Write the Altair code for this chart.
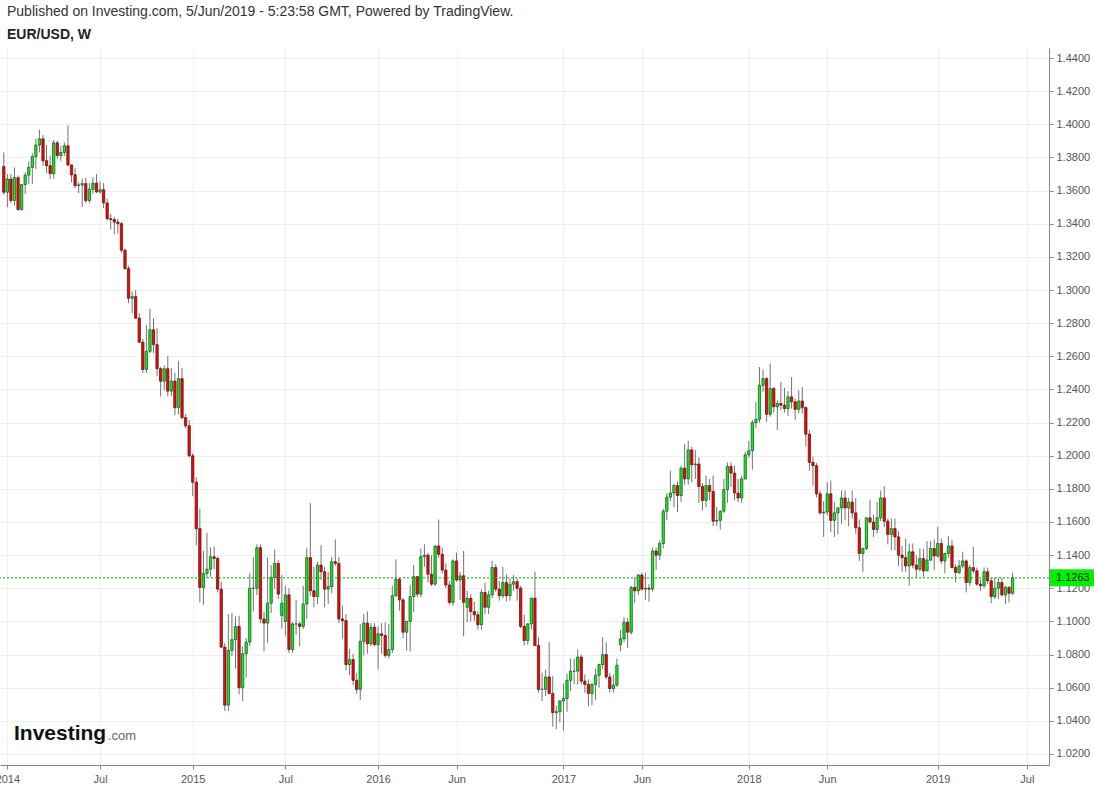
import altair as alt
import pandas as pd

# ---------------- data (weekly EUR/USD bars, week starting Monday) ----------------
FIRST_WEEK = "2013-12-30"
FIRST_OPEN = 1.3745
GAP_OPENS = {"2015-06-29": 1.1035, "2015-07-06": 1.1000,
             "2016-06-27": 1.1085, "2017-04-24": 1.0860}

# weeks 2013-12-30 .. 2014-12-22
c14 = [1.3590, 1.3670, 1.3540, 1.3678, 1.3486, 1.3636, 1.3693, 1.3740, 1.3805, 1.3875,
       1.3912, 1.3780, 1.3750, 1.3702, 1.3888, 1.3812, 1.3830, 1.3870, 1.3755, 1.3695,
       1.3630, 1.3634, 1.3642, 1.3540, 1.3608, 1.3645, 1.3592, 1.3605, 1.3525, 1.3430,
       1.3425, 1.3410, 1.3400, 1.3240, 1.3130, 1.2950, 1.2960, 1.2830, 1.2685, 1.2520,
       1.2630, 1.2760, 1.2670, 1.2525, 1.2450, 1.2525, 1.2390, 1.2450, 1.2290, 1.2465,
       1.2230, 1.2180]
h14 = [1.3830, 1.3700, 1.3700, 1.3740, 1.3690, 1.3640, 1.3710, 1.3775, 1.3825, 1.3915,
       1.3967, 1.3935, 1.3875, 1.3810, 1.3905, 1.3900, 1.3870, 1.3890, 1.3993, 1.3755,
       1.3735, 1.3650, 1.3670, 1.3677, 1.3645, 1.3680, 1.3700, 1.3655, 1.3645, 1.3550,
       1.3460, 1.3440, 1.3430, 1.3410, 1.3250, 1.3145, 1.2990, 1.3000, 1.2860, 1.2705,
       1.2790, 1.2887, 1.2830, 1.2770, 1.2535, 1.2545, 1.2600, 1.2530, 1.2500, 1.2570,
       1.2530, 1.2250]
l14 = [1.3575, 1.3500, 1.3525, 1.3510, 1.3478, 1.3478, 1.3580, 1.3640, 1.3640, 1.3730,
       1.3830, 1.3750, 1.3705, 1.3670, 1.3670, 1.3790, 1.3780, 1.3810, 1.3745, 1.3650,
       1.3615, 1.3585, 1.3500, 1.3525, 1.3525, 1.3580, 1.3585, 1.3580, 1.3495, 1.3420,
       1.3365, 1.3335, 1.3340, 1.3225, 1.3120, 1.2920, 1.2860, 1.2825, 1.2680, 1.2500,
       1.2500, 1.2620, 1.2620, 1.2480, 1.2357, 1.2395, 1.2358, 1.2360, 1.2245, 1.2250,
       1.2220, 1.2165]

# weeks 2014-12-29 .. 2015-12-21
c15 = [1.2000, 1.1840, 1.1560, 1.1205, 1.1290, 1.1315, 1.1390, 1.1380, 1.1195, 1.0845,
       1.0495, 1.0825, 1.0890, 1.0970, 1.0600, 1.0805, 1.0875, 1.1200, 1.1200, 1.1445,
       1.1015, 1.0990, 1.1110, 1.1265, 1.1350, 1.1165, 1.1110, 1.1160, 1.0830, 1.0985,
       1.0985, 1.0970, 1.1105, 1.1385, 1.1185, 1.1150, 1.1340, 1.1300, 1.1195, 1.1210,
       1.1360, 1.1350, 1.1015, 1.1005, 1.0740, 1.0770, 1.0645, 1.0590, 1.0880, 1.0990,
       1.0865, 1.0965]
h15 = [1.2215, 1.2015, 1.1870, 1.1680, 1.1425, 1.1535, 1.1445, 1.1450, 1.1390, 1.1240,
       1.0870, 1.1045, 1.1050, 1.1030, 1.1035, 1.0850, 1.0900, 1.1290, 1.1390, 1.1465,
       1.1465, 1.1060, 1.1385, 1.1340, 1.1435, 1.1370, 1.1280, 1.1215, 1.1200, 1.0995,
       1.1130, 1.1000, 1.1215, 1.1440, 1.1715, 1.1330, 1.1360, 1.1460, 1.1330, 1.1300,
       1.1390, 1.1495, 1.1390, 1.1095, 1.1045, 1.0835, 1.0805, 1.0690, 1.0985, 1.1045,
       1.1060, 1.0990]
l15 = [1.1990, 1.1755, 1.1460, 1.1115, 1.1100, 1.1260, 1.1270, 1.1315, 1.1175, 1.0840,
       1.0460, 1.0460, 1.0790, 1.0715, 1.0560, 1.0520, 1.0660, 1.0850, 1.1060, 1.1160,
       1.0990, 1.0820, 1.0870, 1.1050, 1.1195, 1.1135, 1.0955, 1.0915, 1.0810, 1.0810,
       1.0920, 1.0850, 1.0955, 1.1015, 1.1155, 1.1085, 1.1105, 1.1250, 1.1085, 1.1105,
       1.1170, 1.1335, 1.0990, 1.0895, 1.0705, 1.0675, 1.0615, 1.0565, 1.0525, 1.0795,
       1.0805, 1.0850]

# weeks 2015-12-28 .. 2016-12-26
c16 = [1.0860, 1.0925, 1.0915, 1.0795, 1.0830, 1.1155, 1.1255, 1.1130, 1.0935, 1.1000,
       1.1150, 1.1270, 1.1165, 1.1390, 1.1400, 1.1285, 1.1225, 1.1455, 1.1405, 1.1310,
       1.1220, 1.1115, 1.1365, 1.1250, 1.1275, 1.1115, 1.1140, 1.1060, 1.1040, 1.0980,
       1.1175, 1.1085, 1.1160, 1.1325, 1.1195, 1.1155, 1.1235, 1.1155, 1.1225, 1.1240,
       1.1200, 1.0970, 1.0885, 1.0985, 1.1140, 1.0855, 1.0590, 1.0590, 1.0665, 1.0565,
       1.0450, 1.0455, 1.0520]
h16 = [1.0990, 1.0970, 1.0990, 1.0995, 1.0985, 1.1215, 1.1375, 1.1260, 1.1140, 1.1005,
       1.1220, 1.1340, 1.1275, 1.1440, 1.1465, 1.1415, 1.1400, 1.1460, 1.1615, 1.1445,
       1.1350, 1.1245, 1.1375, 1.1415, 1.1300, 1.1425, 1.1185, 1.1165, 1.1120, 1.1060,
       1.1195, 1.1235, 1.1185, 1.1365, 1.1345, 1.1245, 1.1330, 1.1285, 1.1260, 1.1280,
       1.1260, 1.1215, 1.1040, 1.0990, 1.1145, 1.1300, 1.0905, 1.0690, 1.0710, 1.0875,
       1.0670, 1.0490, 1.0525]
l16 = [1.0850, 1.0710, 1.0805, 1.0780, 1.0775, 1.0810, 1.1150, 1.1065, 1.0900, 1.0825,
       1.0820, 1.1055, 1.1145, 1.1145, 1.1330, 1.1235, 1.1215, 1.1215, 1.1385, 1.1290,
       1.1200, 1.1100, 1.1095, 1.1240, 1.1130, 1.0910, 1.0995, 1.1000, 1.1000, 1.0950,
       1.0950, 1.1045, 1.1045, 1.1140, 1.1180, 1.1125, 1.1140, 1.1120, 1.1125, 1.1185,
       1.1125, 1.0960, 1.0855, 1.0860, 1.0950, 1.0850, 1.0570, 1.0520, 1.0550, 1.0560,
       1.0365, 1.0350, 1.0390]

# weeks 2017-01-02 .. 2017-12-25
c17 = [1.0535, 1.0645, 1.0700, 1.0700, 1.0785, 1.0640, 1.0620, 1.0565, 1.0620, 1.0675,
       1.0740, 1.0800, 1.0665, 1.0595, 1.0615, 1.0735, 1.0895, 1.0995, 1.0935, 1.1205,
       1.1185, 1.1280, 1.1195, 1.1200, 1.1195, 1.1425, 1.1400, 1.1470, 1.1665, 1.1750,
       1.1775, 1.1820, 1.1760, 1.1925, 1.1860, 1.2035, 1.1945, 1.1950, 1.1815, 1.1730,
       1.1820, 1.1785, 1.1605, 1.1610, 1.1665, 1.1795, 1.1935, 1.1895, 1.1775, 1.1745,
       1.1860, 1.2005]
h17 = [1.0625, 1.0685, 1.0775, 1.0775, 1.0830, 1.0800, 1.0680, 1.0650, 1.0630, 1.0715,
       1.0745, 1.0905, 1.0875, 1.0690, 1.0680, 1.0775, 1.0950, 1.1025, 1.1020, 1.1215,
       1.1265, 1.1285, 1.1295, 1.1295, 1.1225, 1.1445, 1.1445, 1.1490, 1.1680, 1.1775,
       1.1910, 1.1830, 1.1845, 1.1940, 1.2070, 1.2090, 1.2055, 1.2035, 1.1990, 1.1835,
       1.1880, 1.1860, 1.1880, 1.1690, 1.1670, 1.1860, 1.1960, 1.1960, 1.1940, 1.1860,
       1.1880, 1.2025]
l17 = [1.0340, 1.0455, 1.0580, 1.0620, 1.0620, 1.0620, 1.0570, 1.0490, 1.0495, 1.0525,
       1.0600, 1.0715, 1.0650, 1.0570, 1.0570, 1.0605, 1.0820, 1.0875, 1.0840, 1.0920,
       1.1110, 1.1160, 1.1185, 1.1130, 1.1120, 1.1180, 1.1310, 1.1370, 1.1440, 1.1610,
       1.1725, 1.1690, 1.1660, 1.1720, 1.1825, 1.1825, 1.1840, 1.1860, 1.1715, 1.1670,
       1.1690, 1.1730, 1.1575, 1.1575, 1.1555, 1.1655, 1.1715, 1.1810, 1.1730, 1.1720,
       1.1715, 1.1855]

# weeks 2018-01-01 .. 2018-12-31
c18 = [1.2030, 1.2200, 1.2220, 1.2425, 1.2465, 1.2250, 1.2405, 1.2295, 1.2315, 1.2305,
       1.2285, 1.2355, 1.2325, 1.2280, 1.2330, 1.2290, 1.2130, 1.1960, 1.1940, 1.1770,
       1.1655, 1.1660, 1.1770, 1.1610, 1.1655, 1.1685, 1.1745, 1.1685, 1.1720, 1.1655,
       1.1565, 1.1410, 1.1440, 1.1625, 1.1600, 1.1555, 1.1625, 1.1745, 1.1605, 1.1525,
       1.1560, 1.1510, 1.1400, 1.1385, 1.1335, 1.1420, 1.1340, 1.1315, 1.1380, 1.1305,
       1.1370, 1.1440, 1.1395]
h18 = [1.2090, 1.2215, 1.2325, 1.2535, 1.2520, 1.2475, 1.2555, 1.2415, 1.2335, 1.2445,
       1.2410, 1.2390, 1.2475, 1.2345, 1.2395, 1.2415, 1.2300, 1.2155, 1.1995, 1.1955,
       1.1790, 1.1725, 1.1840, 1.1850, 1.1720, 1.1690, 1.1790, 1.1790, 1.1745, 1.1790,
       1.1745, 1.1615, 1.1445, 1.1630, 1.1735, 1.1645, 1.1720, 1.1790, 1.1815, 1.1620,
       1.1620, 1.1620, 1.1545, 1.1455, 1.1500, 1.1470, 1.1470, 1.1400, 1.1440, 1.1440,
       1.1485, 1.1485, 1.1495]
l18 = [1.1985, 1.1915, 1.2165, 1.2200, 1.2385, 1.2205, 1.2235, 1.2260, 1.2155, 1.2275,
       1.2260, 1.2240, 1.2285, 1.2215, 1.2255, 1.2255, 1.2055, 1.1910, 1.1820, 1.1750,
       1.1645, 1.1510, 1.1640, 1.1540, 1.1510, 1.1525, 1.1590, 1.1610, 1.1575, 1.1620,
       1.1530, 1.1365, 1.1300, 1.1430, 1.1590, 1.1510, 1.1530, 1.1605, 1.1570, 1.1465,
       1.1430, 1.1430, 1.1335, 1.1300, 1.1300, 1.1215, 1.1320, 1.1265, 1.1300, 1.1270,
       1.1340, 1.1365, 1.1310]

# weeks 2019-01-07 .. 2019-06-03
c19 = [1.1470, 1.1365, 1.1410, 1.1455, 1.1325, 1.1295, 1.1335, 1.1365, 1.1235, 1.1325,
       1.1305, 1.1225, 1.1215, 1.1300, 1.1245, 1.1150, 1.1200, 1.1235, 1.1160, 1.1205,
       1.1170, 1.1263]
h19 = [1.1570, 1.1500, 1.1415, 1.1515, 1.1490, 1.1345, 1.1370, 1.1420, 1.1375, 1.1340,
       1.1450, 1.1325, 1.1255, 1.1325, 1.1325, 1.1265, 1.1265, 1.1265, 1.1265, 1.1215,
       1.1215, 1.1295]
l19 = [1.1385, 1.1345, 1.1290, 1.1385, 1.1320, 1.1235, 1.1285, 1.1320, 1.1175, 1.1215,
       1.1290, 1.1215, 1.1185, 1.1200, 1.1225, 1.1110, 1.1135, 1.1135, 1.1150, 1.1105,
       1.1115, 1.1160]

LAST_PRICE = 1.1263
LAST_LABEL = "1.1263"

TICK_MONTHS = ["2014-01", "2014-07", "2015-01", "2015-07", "2016-01", "2016-06",
               "2017-01", "2017-06", "2018-01", "2018-06", "2019-01", "2019-07"]
TICK_LABELS = ["2014", "Jul", "2015", "Jul", "2016", "Jun",
               "2017", "Jun", "2018", "Jun", "2019", "Jul"]
PRICE_TICKS = [1.02, 1.04, 1.06, 1.08, 1.10, 1.12, 1.14, 1.16, 1.18, 1.20, 1.22,
               1.24, 1.26, 1.28, 1.30, 1.32, 1.34, 1.36, 1.38, 1.40, 1.42, 1.44]

TITLE1 = "Published on Investing.com, 5/Jun/2019 - 5:23:58 GMT, Powered by TradingView."
TITLE2 = "EUR/USD, W"

# ---------------- assemble table ----------------
closes = c14 + c15 + c16 + c17 + c18 + c19
highs = h14 + h15 + h16 + h17 + h18 + h19
lows = l14 + l15 + l16 + l17 + l18 + l19
n = len(closes)
first = pd.Timestamp(FIRST_WEEK)
weeks = [first + pd.Timedelta(days=7 * k) for k in range(n)]
opens = [FIRST_OPEN] + closes[:-1]
for d, v in GAP_OPENS.items():
    opens[weeks.index(pd.Timestamp(d))] = v

df = pd.DataFrame({
    "i": list(range(n)),
    "week": [w.strftime("%Y-%m-%d") for w in weeks],
    "open": opens, "high": highs, "low": lows, "close": closes,
})
df["high"] = df[["high", "open", "close"]].max(axis=1)
df["low"] = df[["low", "open", "close"]].min(axis=1)


def first_bar_index(month):
    d = pd.Timestamp(month + "-01")
    while d.weekday() != 0:
        d += pd.Timedelta(days=1)
    return int((d - first).days // 7)


tick_idx = [first_bar_index(m) for m in TICK_MONTHS]
label_expr = ("[" + ",".join("'%s'" % t for t in TICK_LABELS) + "][indexof(["
              + ",".join(str(t) for t in tick_idx) + "], datum.value)]")

# ---------------- layout ----------------
W, H = 1049, 717
BAR_PX = 3.5646
PX_PER_UNIT = 1657.0
X_DOMAIN = [-3.8 / BAR_PX, (W - 3.8) / BAR_PX]
Y_DOMAIN = [1.02 - 11 / PX_PER_UNIT, 1.44 + 10 / PX_PER_UNIT]
TAG_HALF = 8.5 / PX_PER_UNIT
FONT = "Liberation Sans"
GRID = "#efefef"
AXIS_TXT = "#555555"

x_scale = alt.Scale(domain=X_DOMAIN, nice=False, zero=False, padding=0)
y_scale = alt.Scale(domain=Y_DOMAIN, nice=False, zero=False, padding=0)
x_axis = alt.Axis(values=tick_idx, labelExpr=label_expr, title=None,
                  grid=True, gridColor=GRID, labelFlush=False,
                  labelOverlap=False, labelBound=False,
                  labelFont=FONT, labelFontSize=11, labelColor=AXIS_TXT,
                  domainColor="#888888", tickColor="#888888", tickSize=4,
                  labelPadding=4)
y_axis = alt.Axis(orient="right", values=PRICE_TICKS, format=".4f", title=None,
                  grid=True, gridColor=GRID, labelFont=FONT, labelFontSize=11,
                  labelColor=AXIS_TXT, domainColor="#888888", tickColor="#888888",
                  tickSize=4, labelPadding=3, labelOverlap=False, labelBound=False)

base = alt.Chart(df)
is_up = alt.datum.close >= alt.datum.open

wicks = base.mark_rule(color="#737375", strokeWidth=1).encode(
    x=alt.X("i:Q", scale=x_scale, axis=x_axis),
    y=alt.Y("low:Q", scale=y_scale, axis=y_axis),
    y2="high:Q",
)
bodies = base.mark_bar(size=2.3, strokeWidth=0.8).encode(
    x=alt.X("i:Q", scale=x_scale, axis=x_axis),
    y=alt.Y("open:Q", scale=y_scale, axis=y_axis),
    y2="close:Q",
    fill=alt.condition(is_up, alt.value("#00ff00"), alt.value("#ff0000")),
    stroke=alt.condition(is_up, alt.value("#225437"), alt.value("#5b1a13")),
)

last_df = pd.DataFrame({"p": [LAST_PRICE], "lbl": [LAST_LABEL]})
last_line = alt.Chart(last_df).mark_rule(color="#00aa00", strokeWidth=1,
                                         strokeDash=[2, 2]).encode(
    y=alt.Y("p:Q", scale=y_scale, axis=y_axis))
last_box = alt.Chart(last_df).transform_calculate(
    top="datum.p + %f" % TAG_HALF, bot="datum.p - %f" % TAG_HALF
).mark_rect(color="#00f000").encode(
    y=alt.Y("top:Q", scale=y_scale, axis=y_axis), y2="bot:Q",
    x=alt.value(W + 1), x2=alt.value(W + 45))
last_tag = alt.Chart(last_df).mark_text(
    align="left", baseline="middle", font=FONT, fontSize=11, color="#222222",
).encode(y=alt.Y("p:Q", scale=y_scale, axis=y_axis), x=alt.value(W + 7), text="lbl:N")

title_df = pd.DataFrame({"t1": [TITLE1], "t2": [TITLE2], "a": ["Investing"], "b": [".com"]})
title1 = alt.Chart(title_df).mark_text(align="left", baseline="middle", font=FONT,
                                       fontSize=14, color="#333333").encode(
    x=alt.value(7), y=alt.value(-36), text="t1:N")
title2 = alt.Chart(title_df).mark_text(align="left", baseline="middle", font=FONT,
                                       fontSize=14, fontWeight="bold",
                                       color="#222222").encode(
    x=alt.value(7), y=alt.value(-13), text="t2:N")
logo1 = alt.Chart(title_df).mark_text(align="left", baseline="alphabetic", font=FONT,
                                      fontSize=21, fontWeight="bold",
                                      color="#111111").encode(
    x=alt.value(14), y=alt.value(692), text="a:N")
logo2 = alt.Chart(title_df).mark_text(align="left", baseline="alphabetic", font=FONT,
                                      fontSize=13, color="#666666").encode(
    x=alt.value(108), y=alt.value(692), text="b:N")

chart = alt.layer(
    wicks, bodies, last_line, last_box, last_tag, title1, title2, logo1, logo2
).properties(
    width=W, height=H,
    padding={"left": 0, "top": 48, "right": 45, "bottom": 30},
    autosize=alt.AutoSizeParams(type="none"),
    background="white",
).configure_view(stroke=None)

chart.save("out.html", embed_options={"renderer": "svg", "actions": False})
